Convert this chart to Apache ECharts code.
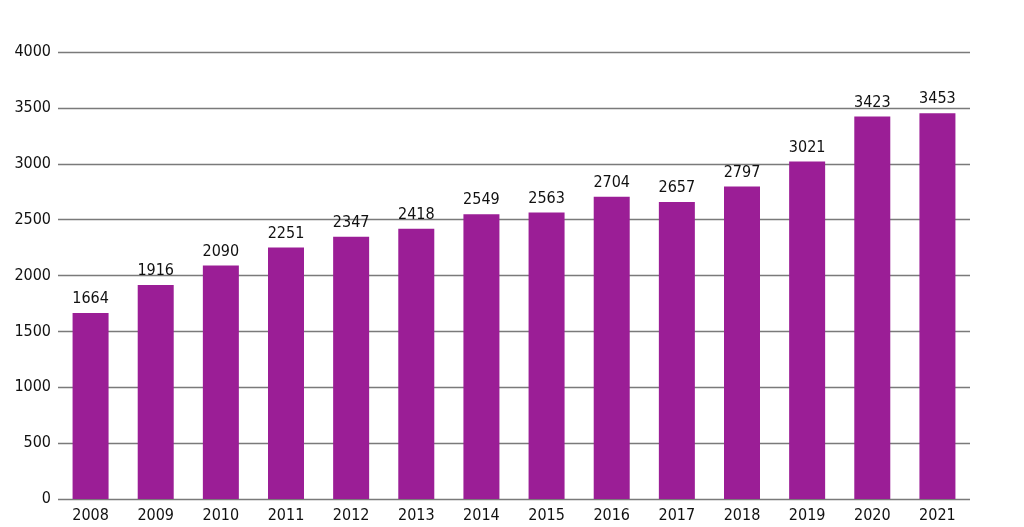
<!DOCTYPE html>
<html>
<head>
<meta charset="utf-8">
<script src="https://cdn.jsdelivr.net/npm/echarts@6/dist/echarts.min.js"></script>
<style>
  html, body { margin: 0; padding: 0; background: #fff; }
  #chart { width: 1024px; height: 527px; }
</style>
</head>
<body>
<div id="chart"></div>
<script>
var years = ['2008', '2009', '2010', '2011', '2012', '2013', '2014', '2015', '2016', '2017', '2018', '2019', '2020', '2021'];
var values = [1664, 1916, 2090, 2251, 2347, 2418, 2549, 2563, 2704, 2657, 2797, 3021, 3423, 3453];

var font = '"Liberation Sans Narrow", "DejaVu Sans Condensed", sans-serif';

var chart = echarts.init(document.getElementById('chart'));

var option = {
  animation: false,
  grid: {
    left: 58,
    right: 54,
    top: 52,
    bottom: 28
  },
  xAxis: {
    type: 'category',
    data: years,
    axisLine: { show: false },
    axisTick: { show: false },
    axisLabel: {
      color: '#111',
      fontFamily: font,
      fontSize: 16,
      margin: 9
    }
  },
  yAxis: {
    type: 'value',
    min: 0,
    max: 4000,
    interval: 500,
    axisLine: { show: false },
    axisTick: { show: false },
    axisLabel: {
      color: '#111',
      fontFamily: font,
      fontSize: 16,
      margin: 7,
      formatter: function (v) { return String(v); }
    },
    splitLine: {
      lineStyle: { color: '#7a7a7a', width: 1.3 }
    }
  },
  series: [{
    type: 'bar',
    data: values,
    barWidth: 36,
    itemStyle: { color: '#9b1e96' },
    label: {
      show: true,
      position: 'top',
      distance: 6,
      color: '#111',
      fontFamily: font,
      fontSize: 16
    }
  }]
};

chart.setOption(option);
</script>
</body>
</html>
